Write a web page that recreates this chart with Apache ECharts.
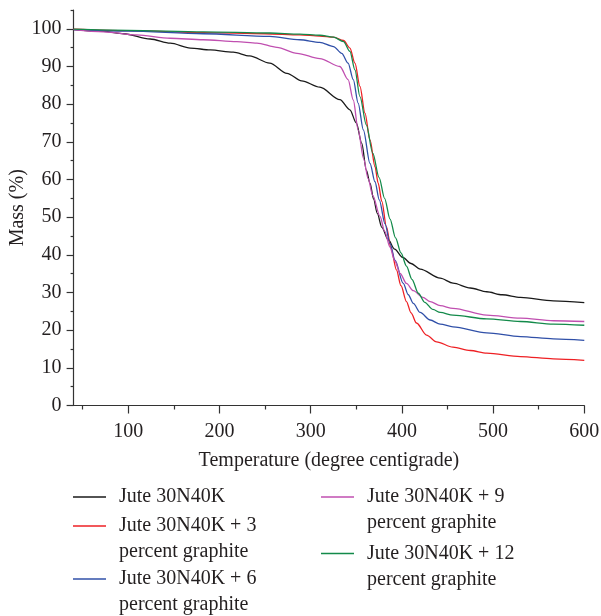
<!DOCTYPE html>
<html>
<head>
<meta charset="utf-8">
<script src="https://cdn.jsdelivr.net/npm/echarts@6/dist/echarts.min.js"></script>
<style>html,body{margin:0;padding:0;background:#fff;}#c{width:601px;height:616px;}</style>
</head>
<body>
<div id="c"></div>
<script>
// ---- data ----
const seriesNames = [
  'Jute 30N40K',
  'Jute 30N40K + 3\npercent graphite',
  'Jute 30N40K + 6\npercent graphite',
  'Jute 30N40K + 9\npercent graphite',
  'Jute 30N40K + 12\npercent graphite'
];
const jute = [[40,99.8],[73,99.3],[95,98.7],[124,97.3],[146,96.2],[168,94.9],[190,94.4],[215,93.8],[233,92.8],[255,90.9],[274,88.2],[290,86.2],[310,84.5],[332,81.2],[343,78.5],[350,75],[356,69.6],[361,62.5],[365,59],[369,54.8],[373,51],[378,47.3],[385,44],[392,41.5],[401,39.3],[410,37.7],[420,36.2],[442,33.8],[456,32.5],[475,31.2],[493,30.2],[510,29.4],[530,28.7],[566,27.8],[600,27.3]];
const g3 = [[40,99.9],[100,99.5],[182,99],[250,98.7],[288,98.4],[310,98.1],[325,97.8],[336,96.9],[343,94.9],[348.5,90.9],[354,84.7],[359.5,77.6],[365,70.5],[370.5,63.4],[374,59],[378,54.2],[383,47.5],[388,41.8],[394,36],[399,31.8],[405,27.6],[410,24.6],[416,21.9],[427,18.7],[438,16.9],[456,15.5],[475,14.6],[493,13.9],[530,13],[566,12.4],[600,12]];
const g6 = [[40,99.8],[100,99.4],[182,98.7],[255,98],[288,97.1],[310,96.4],[325,95.3],[334,93.5],[341,90.9],[346.7,86.5],[352,80.3],[357.7,73.2],[365,64.3],[370.5,59.4],[375.2,54.6],[381.5,48.2],[387,43],[392.4,38.6],[401.5,32.4],[407,29.4],[412.5,27.1],[420,24.7],[431,22.7],[442,21.6],[456,20.9],[493,19.3],[530,18.3],[566,17.7],[600,17.3]];
const g9 = [[40,99.8],[73,99.2],[109,98.4],[146,97.5],[182,97.1],[219,96.6],[241,96.2],[263,95.1],[285,93.5],[310,92.1],[332,90],[341,86.5],[346.7,81.1],[352,73.2],[358,65.5],[363,60.2],[368,55.8],[376,50.2],[381,46.3],[387,42],[392,38.5],[398,35.1],[405,32.4],[412.5,30.5],[423,28.7],[431,27.6],[442,26.5],[456,25.8],[493,24],[530,23.2],[566,22.5],[600,22.3]];
const g12 = [[40,99.9],[100,99.6],[182,99.2],[255,98.9],[288,98.6],[310,98.3],[325,97.8],[336,96.6],[343,94],[348.5,89.1],[354,82],[361,74.5],[368,67],[375,60.5],[381,55],[387,49.5],[393,44.5],[399,40.5],[405,37],[411,33.5],[418,29.8],[425,27.4],[434,25.5],[442,24.7],[456,24],[493,23],[530,22.3],[566,21.6],[600,21.3]];
const xMajorTicks = [100,200,300,400,500,600];
const xMinorTicks = [50,150,250,350,450,550];
const yMajorTicks = [0,10,20,30,40,50,60,70,80,90,100];
const yMinorTicks = [5,15,25,35,45,55,65,75,85,95,105];
const colors = ['#1a1a1a','#ee2024','#3050a8','#c04fb0','#138a4a'];

const FONT = 'Liberation Serif';
const TXT = '#231f20';
const AX = '#333333';

const allData = [jute, g3, g6, g9, g12];
const series = allData.map((d, i) => ({
  name: seriesNames[i], type: 'line', data: d, symbol: 'none', showSymbol: false,
  smooth: 0.3, smoothMonotone: 'x',
  lineStyle: { width: 1.3, color: colors[i] }, itemStyle: { color: colors[i] },
  xAxisIndex: 0, yAxisIndex: 0, z: 2 + i
}));

function legendAt(i, left, iconCenter, twoLine) {
  const LH = 26;
  return {
    data: [seriesNames[i]], left: left,
    top: twoLine ? iconCenter - LH * 1.5 : iconCenter - LH / 2,
    orient: 'vertical', padding: 0, itemWidth: 33, itemHeight: 1.5,
    icon: 'rect', selectedMode: false,
    formatter: twoLine ? (n => '\n' + n) : (n => n),
    textStyle: { fontFamily: FONT, fontSize: 20, color: TXT, lineHeight: LH,
      padding: [0, 0, 0, 8] }
  };
}

const option = {
  animation: false,
  backgroundColor: '#fff',
  grid: { left: 73.6, right: 16.7, top: 10, bottom: 210.5, containLabel: false, outerBoundsMode: 'none' },
  legend: [
    legendAt(0, 73, 497, false),
    legendAt(1, 73, 526, true),
    legendAt(2, 73, 579, true),
    legendAt(3, 321, 497, true),
    legendAt(4, 321, 553.5, true)
  ],
  xAxis: [{
    type: 'value', min: 40, max: 600, position: 'bottom',
    name: 'Temperature (degree centigrade)', nameLocation: 'middle', nameGap: 45,
    nameTextStyle: { fontFamily: FONT, fontSize: 20, color: TXT },
    axisLine: { show: true, lineStyle: { color: AX, width: 1.2 } },
    axisTick: { show: true, length: 8, customValues: xMajorTicks, lineStyle: { color: AX, width: 1.2 } },
    axisLabel: { customValues: xMajorTicks, margin: 16, fontFamily: FONT, fontSize: 20, color: TXT },
    splitLine: { show: false }
  }, {
    type: 'value', min: 40, max: 600, position: 'bottom',
    axisLine: { show: false },
    axisTick: { show: true, length: 4, customValues: xMinorTicks, lineStyle: { color: AX, width: 1.2 } },
    axisLabel: { show: false }, splitLine: { show: false }
  }],
  yAxis: [{
    type: 'value', min: 0, max: 105, position: 'left',
    name: 'Mass (%)', nameLocation: 'middle', nameGap: 46, nameMoveOverlap: false,
    nameTextStyle: { fontFamily: FONT, fontSize: 20, color: TXT },
    axisLine: { show: true, lineStyle: { color: AX, width: 1.2 } },
    axisTick: { show: true, length: 7, customValues: yMajorTicks, lineStyle: { color: AX, width: 1.2 } },
    axisLabel: { customValues: yMajorTicks, margin: 12, fontFamily: FONT, fontSize: 20, color: TXT },
    splitLine: { show: false }
  }, {
    type: 'value', min: 0, max: 105, position: 'left',
    axisLine: { show: false },
    axisTick: { show: true, length: 3, customValues: yMinorTicks, lineStyle: { color: AX, width: 1.2 } },
    axisLabel: { show: false }, splitLine: { show: false }
  }],
  series: series
};
const chart = echarts.init(document.getElementById('c'), null, { renderer: 'canvas' });
chart.setOption(option);
</script>
</body>
</html>
